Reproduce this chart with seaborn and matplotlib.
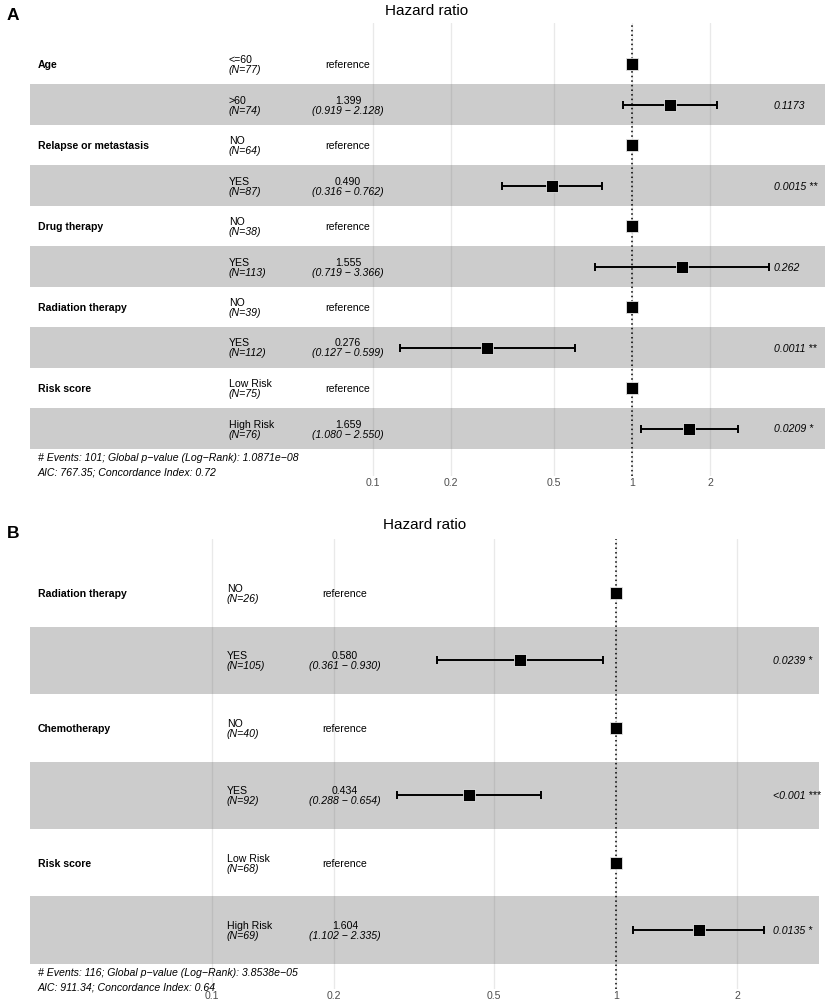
import numpy as np
import pandas as pd
import matplotlib.pyplot as plt
import seaborn as sns

# ---- datos panel A ----
a_var = ['Age', '', 'Relapse or metastasis', '', 'Drug therapy', '',
         'Radiation therapy', '', 'Risk score', '']
a_level = ['<=60', '>60', 'NO', 'YES', 'NO', 'YES', 'NO', 'YES', 'Low Risk', 'High Risk']
a_n = [77, 74, 64, 87, 38, 113, 39, 112, 75, 76]
a_hr = [1, 1.399, 1, 0.490, 1, 1.555, 1, 0.276, 1, 1.659]
a_lo = [np.nan, 0.919, np.nan, 0.316, np.nan, 0.719, np.nan, 0.127, np.nan, 1.080]
a_hi = [np.nan, 2.128, np.nan, 0.762, np.nan, 3.366, np.nan, 0.599, np.nan, 2.550]
a_p = ['', '0.1173', '', '0.0015 **', '', '0.262', '', '0.0011 **', '', '0.0209 *']
a_foot = ['# Events: 101; Global p\u2212value (Log\u2212Rank): 1.0871e\u221208',
          'AIC: 767.35; Concordance Index: 0.72']

# ---- datos panel B ----
b_var = ['Radiation therapy', '', 'Chemotherapy', '', 'Risk score', '']
b_level = ['NO', 'YES', 'NO', 'YES', 'Low Risk', 'High Risk']
b_n = [26, 105, 40, 92, 68, 69]
b_hr = [1, 0.580, 1, 0.434, 1, 1.604]
b_lo = [np.nan, 0.361, np.nan, 0.288, np.nan, 1.102]
b_hi = [np.nan, 0.930, np.nan, 0.654, np.nan, 2.335]
b_p = ['', '0.0239 *', '', '<0.001 ***', '', '0.0135 *']
b_foot = ['# Events: 116; Global p\u2212value (Log\u2212Rank): 3.8538e\u221205',
          'AIC: 911.34; Concordance Index: 0.64']

ticks = [0.1, 0.2, 0.5, 1, 2]
tick_labels = ['0.1', '0.2', '0.5', '1', '2']

sns.set_theme(style="white")
plt.rcParams['font.family'] = ['Liberation Sans', 'DejaVu Sans']
plt.rcParams['text.color'] = 'black'

W, H = 829, 1003
fig = plt.figure(figsize=(W / 100, H / 100), dpi=100)
FS = 7.6


def forest(var, level, n, hr, lo, hi, pv, foot, geo):
    left, right, top, bottom = geo['left'], geo['right'], geo['top'], geo['bottom']
    c0, step = geo['row0'], geo['step']
    ax = fig.add_axes([left / W, 1 - bottom / H, (right - left) / W, (bottom - top) / H])
    nrow = len(hr)
    rows = np.arange(nrow)

    df = pd.DataFrame({'hr': hr, 'lo': lo, 'hi': hi, 'row': rows})

    ax.set_xscale('log')
    dec = geo['x1'] - geo['x01']
    xlim = (10 ** (-1 - (geo['x01'] - left) / dec), 10 ** ((right - geo['x1']) / dec))
    ylim = (nrow - 1 + (bottom - (c0 + step * (nrow - 1))) / step, -(c0 - top) / step)

    # bandas grises
    for r in rows[1::2]:
        ax.axhspan(r - 0.5, r + 0.5, color='#cccccc', lw=0, zorder=0.5)
    for t in ticks:
        ax.axvline(t, color='#5a5a5a', alpha=0.13, lw=1, zorder=1)
    ax.axvline(1, color='black', ls=(0, (1, 2)), lw=1.1, zorder=2)

    m = df.dropna()
    ax.errorbar(m['hr'], m['row'], xerr=[m['hr'] - m['lo'], m['hi'] - m['hr']],
                fmt='none', ecolor='black', elinewidth=1.4, capsize=2.6, capthick=1.4, zorder=3)
    sns.scatterplot(data=df, x='hr', y='row', marker='s', s=68, color='black',
                    edgecolor='#e6e6e6', linewidth=0.6, ax=ax, zorder=4, legend=False)

    ax.set_xlim(*xlim)
    ax.set_ylim(*ylim)
    ax.set_xticks(ticks)
    ax.set_xticklabels(tick_labels)
    ax.xaxis.set_minor_locator(plt.NullLocator())
    ax.set_yticks([])
    ax.tick_params(axis='x', length=0, pad=1, labelsize=FS, colors='#4d4d4d')
    ax.set_xlabel('')
    ax.set_ylabel('')
    for s in ax.spines.values():
        s.set_visible(False)

    tr = ax.get_yaxis_transform()
    fx = lambda px: (px - left) / (right - left)
    for i in rows:
        if var[i]:
            ax.text(fx(geo['xvar']), i, var[i], transform=tr, fontsize=FS, fontweight='bold',
                    va='center', ha='left')
        ax.text(fx(geo['xlev']), i, level[i], transform=tr, fontsize=FS, va='bottom', ha='left')
        ax.text(fx(geo['xlev']), i, f'(N={n[i]})', transform=tr, fontsize=FS, style='italic',
                va='top', ha='left')
        if np.isnan(lo[i]):
            ax.text(fx(geo['xest']), i, 'reference', transform=tr, fontsize=FS, va='center', ha='center')
        else:
            ax.text(fx(geo['xest']), i, f'{hr[i]:.3f}', transform=tr, fontsize=FS, va='bottom', ha='center')
            ax.text(fx(geo['xest']), i, f'({lo[i]:.3f} \u2212 {hi[i]:.3f})', transform=tr,
                    fontsize=FS, style='italic', va='top', ha='center')
        if pv[i]:
            ax.text(fx(geo['xp']), i, pv[i], transform=tr, fontsize=FS, style='italic',
                    va='center', ha='left')

    for k, line in enumerate(foot):
        fig.text(38 / W, 1 - geo['foot'][k] / H, line, fontsize=FS, style='italic', va='center')
    fig.text(geo['title_x'] / W, 1 - geo['title_y'] / H, 'Hazard ratio', fontsize=11,
             ha='center', va='center')
    fig.text(geo['lab_x'] / W, 1 - geo['lab_y'] / H, geo['lab'], fontsize=12.5,
             fontweight='bold', ha='center', va='center')
    return ax


geo_a = dict(left=30, right=825, top=24, bottom=477, row0=65, step=40.5,
             x01=372.7, x1=632.3, xvar=38, xlev=229, xest=348, xp=774,
             foot=[458, 473], title_x=427, title_y=11, lab_x=13, lab_y=15, lab='A')
geo_b = dict(left=30, right=819, top=540, bottom=990, row0=594, step=67.4,
             x01=212, x1=615.7, xvar=38, xlev=227, xest=345, xp=773,
             foot=[973, 988], title_x=425, title_y=525, lab_x=13, lab_y=533, lab='B')

forest(a_var, a_level, a_n, a_hr, a_lo, a_hi, a_p, a_foot, geo_a)
forest(b_var, b_level, b_n, b_hr, b_lo, b_hi, b_p, b_foot, geo_b)

fig.savefig('out.png', dpi=100, facecolor='white')
